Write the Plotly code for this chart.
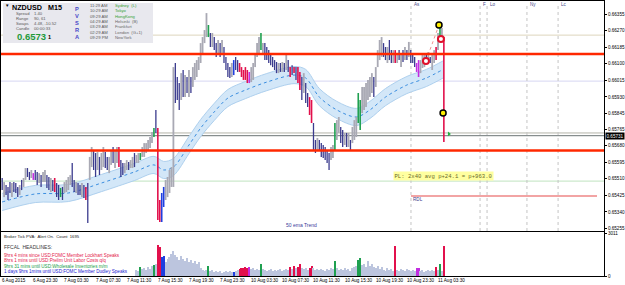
import plotly.graph_objects as go

# ---------------- DATA ----------------
POINT = 1e-5
N_BARS = 228

HIGH = [
    65514, 65493, 65478, 65468, 65493, 65488, 65493, 65488, 65468, 65478,
    65504, 65514, 65565, 65565, 65545, 65555, 65539, 65555, 65545, 65539,
    65529, 65545, 65555, 65529, 65519, 65514, 65504, 65514, 65488, 65478,
    65463, 65468, 65493, 65504, 65519, 65529, 65591, 65504, 65493, 65488,
    65478, 65488, 65478, 65468, 65488, 65622, 65673, 65658, 65642, 65647,
    65622, 65642, 65673, 65647, 65622, 65622, 65658, 65673, 65658, 65673,
    65673, 65606, 65591, 65591, 65606, 65596, 65606, 65622, 65642, 65632,
    65642, 65642, 65673, 65693, 65693, 65709, 65724, 65750, 65770, 65863,
    65770, 65401, 65437, 65468, 65504, 65519, 65555, 65570, 66083, 66104,
    66032, 66001, 66052, 66068, 66042, 66032, 66068, 66032, 66083, 66104,
    66119, 66135, 66206, 66237, 66273, 66360, 66299, 66258, 66258, 66237,
    66206, 66222, 66206, 66222, 66186, 66135, 66104, 66083, 66104, 66119,
    66135, 66119, 66104, 66083, 66068, 66083, 66068, 66058, 66083, 66104,
    66155, 66206, 66237, 66258, 66206, 66206, 66186, 66170, 66155, 66135,
    66119, 66109, 66104, 66104, 66109, 66104, 66155, 66119, 66083, 66093,
    66083, 66083, 66083, 66058, 66032, 66052, 66001, 65950, 65929, 65914,
    65796, 65709, 65719, 65709, 65693, 65683, 65673, 65658, 65642, 65673,
    65683, 65796, 65811, 65827, 65776, 65760, 65745, 65745, 65745, 65709,
    65776, 65811, 65827, 65950, 65914, 65981, 65981, 66001, 66017, 66032,
    66052, 66032, 66083, 66170, 66222, 66237, 66206, 66186, 66186, 66222,
    66170, 66170, 66170, 66155, 66170, 66155, 66170, 66186, 66170, 66212,
    66170, 66155, 66135, 66104, 66119, 66119, 66145, 66155, 66155, 66160,
    66135, 66155, 66170, 66186, 66258, 66299, 66283, 66237,
]
LOW = [
    65452, 65416, 65427, 65401, 65437, 65416, 65442, 65437, 65416, 65427,
    65452, 65468, 65504, 65519, 65504, 65514, 65504, 65504, 65478, 65488,
    65468, 65493, 65493, 65463, 65452, 65442, 65447, 65442, 65416, 65401,
    65416, 65401, 65437, 65442, 65452, 65478, 65468, 65442, 65437, 65427,
    65427, 65416, 65411, 65401, 65283, 65504, 65570, 65555, 65519, 65555,
    65529, 65555, 65570, 65565, 65555, 65539, 65581, 65591, 65565, 65591,
    65570, 65519, 65529, 65539, 65555, 65555, 65565, 65565, 65570, 65591,
    65591, 65606, 65622, 65622, 65642, 65658, 65668, 65693, 65724, 65745,
    65298, 65288, 65288, 65365, 65401, 65416, 65437, 65468, 65468, 65899,
    65914, 65863, 65914, 65929, 65929, 65950, 65929, 65950, 65981, 66017,
    66032, 66068, 66104, 66155, 66206, 66237, 66237, 66186, 66186, 66170,
    66135, 66155, 66135, 66155, 66104, 66068, 66032, 66027, 66032, 66042,
    66068, 66058, 66058, 66032, 66017, 66017, 66001, 66001, 66006, 66017,
    66083, 66135, 66155, 66170, 66155, 66119, 66119, 66104, 66093, 66083,
    66068, 66052, 66052, 66058, 66058, 66058, 66068, 66058, 66032, 66042,
    66052, 66017, 66001, 65965, 65914, 65950, 65899, 65878, 65837, 65796,
    65658, 65642, 65658, 65658, 65622, 65617, 65606, 65591, 65555, 65606,
    65617, 65658, 65709, 65745, 65693, 65673, 65683, 65673, 65673, 65658,
    65693, 65709, 65724, 65796, 65760, 65847, 65863, 65878, 65914, 65929,
    65950, 65929, 65981, 66083, 66119, 66135, 66135, 66119, 66104, 66119,
    66104, 66104, 66104, 66104, 66119, 66083, 66109, 66119, 66119, 66135,
    66104, 66104, 66083, 66058, 66032, 66052, 66078, 66083, 66119, 66104,
    66104, 66068, 66104, 66119, 66170, 66237, 66212, 65699,
]
# PVSRA bar class: u=normal up, d=normal down, r=climax down, g=climax up, b/m=rising volume
CLASSES = (
    "duddd" "udddu" "duudd" "umddu" "duudd" "udrdd" "gduuu" "uddud"
    "dudrd" "uuddu" "duudd" "uuduu" "rdduu" "duudu" "uguuu" "uuugd"
    "rrbbu" "uuuud" "ddudu" "duduu" "uuuuu" "ugdud" "dudud" "dddub"
    "ddrrr" "rrmuu" "uuugu" "ddddd" "ddudu" "dudrd" "rdrrd" "uddrr"
    "ddudd" "ddddu" "uguud" "dudud" "uuugg" "uuuuu" "uduuu" "uddud"
    "durud" "ududu" "dddmm" "uuudu" "duuru" "gur"
)
VOLUME = [None] * 69 + [
    420, 350, 630, 490, 560, 420, 630, 490, 700, 770, 840,
    2170, 2030, 1330, 1400, 980, 1190, 1330, 1540, 1750, 1470,
    1330, 1120, 1400, 1190, 1050, 1260, 980, 1120, 910, 1050,
    840, 980, 560, 420, 350, 420, 700, 350, 420, 280,
    350, 280, 350, 210, 280, 350, 280, 350, 280, 280,
    350, 420, 490, 560, 560, 630, 560, 630, 490, 560,
    420, 490, 420, 840, 490, 420, 350, 420, 490, 350,
    420, 350, 420, 490, 350, 420, 490, 420, 630, 490,
    700, 560, 630, 840, 560, 490, 560, 420, 560, 700,
    560, 420, 490, 420, 490, 420, 350, 490, 420, 560,
    490, 1050, 560, 420, 490, 420, 560, 420, 490, 350,
    560, 630, 700, 1120, 1260, 770, 840, 630, 1050, 700,
    840, 630, 560, 700, 490, 630, 420, 350, 560, 420,
    490, 350, 2100, 420, 350, 490, 420, 350, 490, 420,
    350, 420, 350, 560, 560, 350, 420, 280, 350, 420,
    350, 420, 350, 630, 420, 840, 350, 2100,
]
VOL_MAX = 3011

EMA_X = [0, 17, 34, 51, 68, 78, 83, 88, 96, 102, 109, 116, 125, 136, 150, 156,
         163, 172, 182, 189, 197, 208, 218, 227]
EMA_P = [65391, 65432, 65437, 65488, 65545, 65581, 65555, 65570, 65683, 65770,
         65853, 65924, 65965, 66006, 66042, 66027, 65929, 65863, 65827, 65863,
         65929, 65991, 66027, 66073]
BAND_HALF = 44

RED_LEVELS = [66150, 65655]
TAN_LEVEL = 66247
LAV_LEVEL = 66011
GREY_LEVEL = 65745
BID = 65731
GREEN_LEVEL = 65498
RDL_LEVEL = 65421
RDL_SPAN = [210.1, 305.7]

PRICE_TICKS = [66355, 66270, 66185, 66100, 66015, 65930, 65845, 65765,
               65680, 65595, 65510, 65425, 65340, 65255]

XLABEL_IDX = [0, 16, 32, 48, 64, 80, 96, 112, 128, 144, 160, 176, 192, 208, 224]
XLABEL_TXT = ["6 Aug 2015", "6 Aug 23:30", "7 Aug 03:30", "7 Aug 07:30", "7 Aug 11:30",
              "7 Aug 15:30", "7 Aug 19:30", "7 Aug 23:30", "10 Aug 03:30", "10 Aug 07:30",
              "10 Aug 11:30", "10 Aug 15:30", "10 Aug 19:30", "10 Aug 23:30", "11 Aug 03:30"]

SESSION_X = [210.1, 245.6, 249.2, 269.7, 285.7]
SESSION_TXT = ["As", "F", "Lo", "Ny", "Lc"]

YEL_X = [224.5, 226.6]
YEL_P = [66299, 65847]
RING_X = [217.8, 225.5]
RING_P = [66114, 66227]
ARROW_X = [229.6]
ARROW_P = [65740]

CLOCK_TIMES = ["11:29 AM", "10:29 AM", "09:29 AM", "04:29 AM", "03:29 AM", "02:29 AM", "09:29 PM"]
CLOCK_CITIES = ["Sydney  (L)", "Tokyo", "HongKong", "Helsinki  (B)", "Frankfurt",
                "London  (G+1)", "NewYork"]
CLOCK_OPEN = [True, True, True, False, False, False, False]

INFO_LABELS = ["Spread", "Range", "Swaps", "Candle"]
INFO_VALUES = ["1.40", "90, 61", "4.48, -10.52", "00:00:33"]

HEADLINES = [
    ("9hrs 4 mins since USD:FOMC Member Lockhart Speaks", "#e4204c"),
    ("8hrs 1 mins until USD:Prelim Unit Labor Costs q/q", "#e4204c"),
    ("9hrs 31 mins until USD:Wholesale Inventories m/m", "#1e9e4a"),
    ("1 days 9hrs 1mins until USD:FOMC Member Dudley Speaks", "#1c1cd0"),
]

# ---------------- LAYOUT GEOMETRY ----------------
W, H = 625, 285
ML, MR, MT, MB = 1, 21, 1, 9
PW = W - ML - MR
PH = H - MT - MB
XR = [-0.6, 309.3]
YR = [0.65242, 0.66422]
FONT = "Liberation Sans"


def px_x(px):
    return (px - ML) / PW


def px_y(py):
    return (H - MB - py) / PH


MAIN_DOM = [px_y(231), 1.0]
VOL_DOM = [0.0, px_y(232)]

CLS_COL = {'u': '#a9a9b4', 'd': '#3b3b8e', 'r': '#e2104c', 'g': '#1fa050',
           'b': '#1f3fe0', 'm': '#c22ee0'}
CLS_W = {'u': 1.8, 'd': 1.3, 'r': 1.6, 'g': 1.6, 'b': 1.6, 'm': 1.6}
VOL_COL = {'u': '#bcc5de', 'd': '#bcc5de', 'r': '#e2104c', 'g': '#1fa050',
           'b': '#1f3fe0', 'm': '#c22ee0'}

classes = (CLASSES + "u" * N_BARS)[:N_BARS]

fig = go.Figure()

# EMA band
lower = [(p - BAND_HALF) * POINT for p in EMA_P]
upper = [(p + BAND_HALF) * POINT for p in EMA_P]
center = [p * POINT for p in EMA_P]
fig.add_trace(go.Scatter(x=EMA_X, y=lower, mode='lines', line=dict(color='#aed0ee', width=1, shape='spline', smoothing=0.9),
                         hoverinfo='skip'))
fig.add_trace(go.Scatter(x=EMA_X, y=upper, mode='lines', fill='tonexty', fillcolor='#d3e7f8',
                         line=dict(color='#aed0ee', width=1, shape='spline', smoothing=0.9), hoverinfo='skip'))
fig.add_trace(go.Scatter(x=EMA_X, y=center, mode='lines',
                         line=dict(color='#3b8ee0', width=1, dash='dot', shape='spline', smoothing=0.9), hoverinfo='skip'))

# price bars
for cls, col in CLS_COL.items():
    xs, ys = [], []
    for i in range(N_BARS):
        if classes[i] == cls:
            xs += [i, i, None]
            ys += [LOW[i] * POINT, HIGH[i] * POINT, None]
    if xs:
        fig.add_trace(go.Scatter(x=xs, y=ys, mode='lines', line=dict(color=col, width=CLS_W[cls]),
                                 hoverinfo='skip', connectgaps=False))

# signal lines & markers
fig.add_trace(go.Scatter(x=[RING_X[0], YEL_X[0]], y=[RING_P[0] * POINT, YEL_P[0] * POINT], mode='lines',
                         line=dict(color='#f09090', width=1, dash='dot'), hoverinfo='skip'))
fig.add_trace(go.Scatter(x=YEL_X, y=[p * POINT for p in YEL_P], mode='markers',
                         marker=dict(symbol='circle', size=6, color='#ffee00', line=dict(color='black', width=1.5)),
                         hoverinfo='skip'))
fig.add_trace(go.Scatter(x=RING_X, y=[p * POINT for p in RING_P], mode='markers',
                         marker=dict(symbol='circle', size=6, color='white', line=dict(color='#e0102a', width=2)),
                         hoverinfo='skip'))
fig.add_trace(go.Scatter(x=ARROW_X, y=[p * POINT for p in ARROW_P], mode='markers',
                         marker=dict(symbol='triangle-right', size=4, color='#20b040'), hoverinfo='skip'))

# volume
vx = [i for i in range(N_BARS) if VOLUME[i] is not None]
fig.add_trace(go.Bar(x=vx, y=[VOLUME[i] for i in vx], marker=dict(color=[VOL_COL[classes[i]] for i in vx],
                     line=dict(width=0)), width=0.55, xaxis='x2', yaxis='y2', hoverinfo='skip'))

shapes = []
# horizontal levels
for lvl, col, w, layer in [(TAN_LEVEL, '#ddd5bd', 1, 'below'), (LAV_LEVEL, '#d6d6f2', 1, 'below'),
                           (GREY_LEVEL, '#b4b4aa', 1, 'below'), (BID, '#6c7474', 1, 'below'),
                           (GREEN_LEVEL, '#bfe3bf', 1, 'below')]:
    shapes.append(dict(type='line', xref='paper', yref='y', x0=0, x1=1, y0=lvl * POINT, y1=lvl * POINT,
                       line=dict(color=col, width=w), layer=layer))
for lvl in RED_LEVELS:
    shapes.append(dict(type='line', xref='paper', yref='y', x0=0, x1=1, y0=lvl * POINT, y1=lvl * POINT,
                       line=dict(color='#ff2800', width=2.6), layer='above'))
shapes.append(dict(type='line', xref='x', yref='y', x0=RDL_SPAN[0], x1=RDL_SPAN[1],
                   y0=RDL_LEVEL * POINT, y1=RDL_LEVEL * POINT, line=dict(color='#f2a4a4', width=2), layer='below'))
for sx in SESSION_X:
    shapes.append(dict(type='line', xref='x', yref='paper', x0=sx, x1=sx, y0=MAIN_DOM[0], y1=px_y(3),
                       line=dict(color='#c4c4c4', width=1, dash='dot'), layer='below'))
# info panel
shapes.append(dict(type='rect', xref='paper', yref='paper', x0=px_x(3), x1=px_x(153), y0=px_y(43), y1=px_y(3),
                   fillcolor='#e8e8ee', line=dict(width=0), layer='above'))

ann = []


def txt(px, py, text, size, color='black', anchor='left', bold=False, family=FONT, **kw):
    t = f"<b>{text}</b>" if bold else text
    ann.append(dict(xref='paper', yref='paper', x=px_x(px), y=px_y(py), text=t, showarrow=False,
                    xanchor=anchor, yanchor='middle', font=dict(size=size, color=color, family=family),
                    borderpad=0, **kw))


# info panel texts
txt(3.5, 5.5, "▼", 4.5)
txt(11, 7, "NZDUSD", 7.2, bold=True)
txt(47, 7, "M15", 7.2, bold=True)
for k, (lab, val) in enumerate(zip(INFO_LABELS, INFO_VALUES)):
    txt(15, 13.3 + 5 * k, lab, 4.2, '#5a5a5a')
    txt(33, 13.3 + 5 * k, val, 4.2, '#5a5a5a')
txt(16, 36, "0.6573", 9.5, '#1f9a3a', bold=True)
txt(47, 37, "1", 5.5, 'black', bold=True)
for k, ch in enumerate("PVSRA"):
    txt(76.5, 9.0 + 6.9 * k, ch, 5.7, '#4848c8', anchor='center', bold=True)
for k, (tm, city, op) in enumerate(zip(CLOCK_TIMES, CLOCK_CITIES, CLOCK_OPEN)):
    yy = 5.2 + 5.42 * k
    txt(108.5, yy, tm, 4.2, '#5a5a5a', anchor='right')
    txt(114, yy, city, 4.2, '#34a034' if op else '#6a6a6a')

# volume panel texts
txt(3, 236.5, "Broker Tick PVA:  Alert On.  Count  1695", 4.2, '#202020')
txt(3, 247, "FFCAL  HEADLINES:", 5.0, '#3a3a3a')
for k, (h, c) in enumerate(HEADLINES):
    txt(3, 255 + 5.6 * k, h, 4.6, c)

txt(285, 225, "50 ema Trend", 5.0, '#3a3a9a')
txt(412, 199, "RDL", 4.6, '#3a3a8a')
ann.append(dict(xref='paper', yref='paper', x=px_x(393), y=px_y(175.5), text="PL: 2x40 avg p+24.1 = p+963.0",
                showarrow=False, xanchor='left', yanchor='middle', bgcolor='#ffffa0', borderpad=0.5,
                font=dict(size=5.6, color='#6a6a2a', family='Liberation Mono')))

for sx, st in zip(SESSION_X, SESSION_TXT):
    ann.append(dict(xref='x', yref='paper', x=sx, y=px_y(5), text=st, showarrow=False, xanchor='left',
                    yanchor='middle', xshift=1, font=dict(size=4.6, color='#4a4a8a', family=FONT)))

for idx, lab in zip(XLABEL_IDX, XLABEL_TXT):
    ann.append(dict(xref='x2', yref='paper', x=idx, y=px_y(280.5), text=lab, showarrow=False, xanchor='left',
                    yanchor='middle', xshift=-2, font=dict(size=4.6, color='black', family=FONT)))

# bid price tag
ann.append(dict(xref='paper', yref='y', x=1.0, y=BID * POINT, text=f"{BID * POINT:.5f}", showarrow=False,
                xanchor='left', yanchor='middle', xshift=1, bgcolor='black', borderpad=0.5,
                font=dict(size=4.6, color='white', family=FONT)))

axis_common = dict(showgrid=False, zeroline=False, showline=True, linecolor='black', linewidth=1,
                   mirror=True, automargin=False, fixedrange=True)

fig.update_layout(
    width=W, height=H, margin=dict(l=ML, r=MR, t=MT, b=MB, pad=0),
    template='none', paper_bgcolor='white', plot_bgcolor='white', showlegend=False,
    font=dict(family=FONT, size=5, color='black'),
    xaxis=dict(domain=[0, 1], range=XR, anchor='y', showticklabels=False, ticks='', **axis_common),
    yaxis=dict(domain=MAIN_DOM, range=YR, anchor='x', side='right',
               tickvals=[v * POINT for v in PRICE_TICKS], ticktext=[f"{v * POINT:.5f}" for v in PRICE_TICKS],
               ticks='outside', ticklen=2, tickcolor='black', tickfont=dict(size=4.6, family=FONT),
               **axis_common),
    xaxis2=dict(domain=[0, 1], range=XR, anchor='y2', showticklabels=False, ticks='', **axis_common),
    yaxis2=dict(domain=VOL_DOM, range=[0, VOL_MAX * 1.025], anchor='x2', side='right',
                tickvals=[0, VOL_MAX], ticktext=['0', str(VOL_MAX)], ticks='outside', ticklen=2,
                tickcolor='black', tickfont=dict(size=4.6, family=FONT), **axis_common),
    shapes=shapes, annotations=ann, bargap=0,
)

fig.write_html("out.html")
